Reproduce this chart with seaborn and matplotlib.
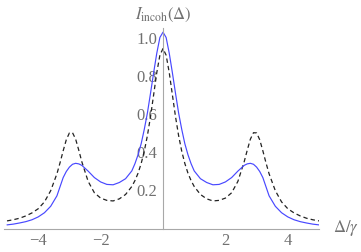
import numpy as np
import pandas as pd
import matplotlib
matplotlib.use('Agg')
import matplotlib.pyplot as plt
import matplotlib.ticker as mticker
import seaborn as sns

# detuning Delta/gamma
delta = [-5.0, -4.8, -4.6, -4.4, -4.2, -4.0, -3.8, -3.6, -3.4, -3.3, -3.2, -3.1,
         -3.0, -2.9, -2.8, -2.7, -2.6, -2.4, -2.2, -2.0, -1.8, -1.6, -1.4, -1.2,
         -1.0, -0.9, -0.8, -0.7, -0.6, -0.5, -0.4, -0.3, -0.2, -0.1,
         0.0,
         0.1, 0.2, 0.3, 0.4, 0.5, 0.6, 0.7, 0.8, 0.9, 1.0,
         1.2, 1.4, 1.6, 1.8, 2.0, 2.2, 2.4, 2.6, 2.7, 2.8, 2.9, 3.0,
         3.1, 3.2, 3.3, 3.4, 3.6, 3.8, 4.0, 4.2, 4.4, 4.6, 4.8, 5.0]

# solid blue curve
incoh_solid = [0.019, 0.023, 0.029, 0.036, 0.046, 0.061, 0.083, 0.117, 0.172, 0.220, 0.268, 0.300,
               0.323, 0.338, 0.343, 0.340, 0.332, 0.302, 0.268, 0.245, 0.232, 0.230, 0.242, 0.262,
               0.303, 0.341, 0.388, 0.446, 0.522, 0.608, 0.712, 0.820, 0.922, 1.005,
               1.033,
               1.005, 0.922, 0.820, 0.712, 0.608, 0.522, 0.446, 0.388, 0.341, 0.303,
               0.262, 0.242, 0.230, 0.232, 0.245, 0.268, 0.302, 0.332, 0.340, 0.343, 0.338, 0.323,
               0.300, 0.268, 0.220, 0.172, 0.117, 0.083, 0.061, 0.046, 0.036, 0.029, 0.023, 0.019]

# dashed black curve
incoh_dashed = [0.040, 0.046, 0.054, 0.066, 0.082, 0.104, 0.140, 0.199, 0.288, 0.346, 0.409, 0.467,
                0.503, 0.504, 0.470, 0.412, 0.350, 0.248, 0.188, 0.160, 0.148, 0.145, 0.156, 0.179,
                0.221, 0.252, 0.291, 0.342, 0.407, 0.489, 0.589, 0.704, 0.820, 0.912,
                0.947,
                0.912, 0.820, 0.704, 0.589, 0.489, 0.407, 0.342, 0.291, 0.252, 0.221,
                0.179, 0.156, 0.145, 0.148, 0.160, 0.188, 0.248, 0.350, 0.412, 0.470, 0.504, 0.503,
                0.467, 0.409, 0.346, 0.288, 0.199, 0.140, 0.104, 0.082, 0.066, 0.054, 0.046, 0.040]

x_major = [-4, -2, 2, 4]
y_major = [0.2, 0.4, 0.6, 0.8, 1.0]

df = pd.DataFrame({'delta': delta, 'solid': incoh_solid, 'dashed': incoh_dashed})

sns.set_style('white')
plt.rcParams['font.family'] = ['Liberation Serif', 'DejaVu Serif']
plt.rcParams['mathtext.fontset'] = 'stix'

axis_grey = '#a8a8a8'
tick_grey = '#999999'
label_grey = '#707070'

fig = plt.figure(figsize=(3.61, 2.52), dpi=100)
ax = fig.add_axes([3.9 / 361, 23.5 / 252, 315.1 / 361, 200.5 / 252])

sns.lineplot(data=df, x='delta', y='dashed', ax=ax, color='#222222', lw=0.9,
             dashes=False, estimator=None, sort=False, linestyle=(0, (3.5, 2.5)))
sns.lineplot(data=df, x='delta', y='solid', ax=ax, color='#4848ff', lw=0.85,
             estimator=None, sort=False)

ax.set_xlim(-5.1, 5.0)
ax.set_ylim(0, 1.055)

# Mathematica style axes crossing at the origin
for side in ['top', 'right']:
    ax.spines[side].set_visible(False)
ax.spines['left'].set_position(('data', 0))
ax.spines['bottom'].set_position(('data', 0))
for side in ['left', 'bottom']:
    ax.spines[side].set_color(axis_grey)
    ax.spines[side].set_linewidth(0.8)

ax.xaxis.set_major_locator(mticker.FixedLocator(x_major))
ax.xaxis.set_minor_locator(mticker.MultipleLocator(0.5))
ax.yaxis.set_major_locator(mticker.FixedLocator(y_major))
ax.yaxis.set_minor_locator(mticker.MultipleLocator(0.05))
ax.xaxis.set_major_formatter(mticker.FuncFormatter(lambda v, p: f'{v:g}'.replace('-', '\u2212')))
ax.yaxis.set_major_formatter(mticker.FuncFormatter(lambda v, p: f'{v:.1f}'))

ax.tick_params(which='both', direction='in', color=tick_grey, width=0.8,
               labelcolor=label_grey, labelsize=12)
ax.tick_params(which='major', length=3.4)
ax.tick_params(which='minor', length=2.0)
ax.tick_params(axis='x', which='major', pad=3)
ax.tick_params(axis='y', which='major', pad=4)

ax.set_xlabel('')
ax.set_ylabel('')
ax.annotate(r'$I_{\mathrm{incoh}}(\Delta)$', xy=(0, 1.055), xycoords='data',
            xytext=(0, 3), textcoords='offset points', ha='center', va='bottom',
            fontsize=12, color=label_grey, annotation_clip=False)
ax.annotate(r'$\Delta/\gamma$', xy=(5.0, 0), xycoords='data',
            xytext=(10, 0), textcoords='offset points', ha='left', va='center',
            fontsize=12, color=label_grey, annotation_clip=False)

fig.savefig('out.png', dpi=100)
plt.close(fig)
